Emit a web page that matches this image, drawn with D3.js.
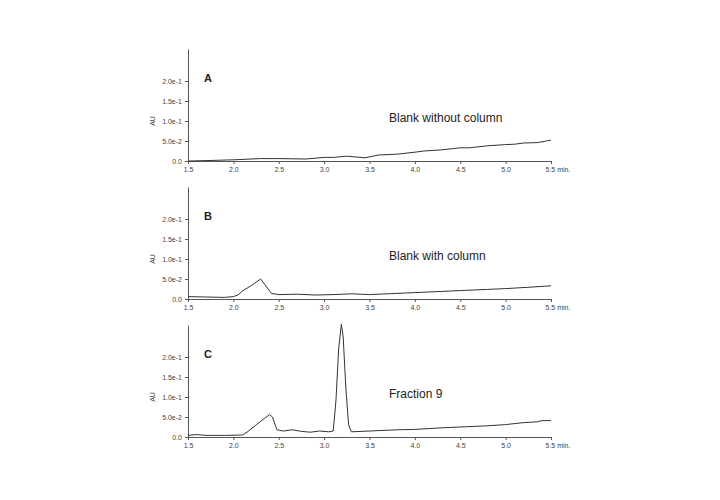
<!DOCTYPE html>
<html><head><meta charset="utf-8">
<script src="https://cdn.jsdelivr.net/npm/d3@7"></script>
<style>body{margin:0;background:#fff}text{font-family:"Liberation Sans",Arial,sans-serif}</style>
</head><body><svg id="c" width="720" height="500"></svg>
<script>
const xTicks=[1.5,2.0,2.5,3.0,3.5,4.0,4.5,5.0,5.5];
const yTicks=[0,0.05,0.1,0.15,0.2];
const yTickLabels=["0.0","5.0e-2","1.0e-1","1.5e-1","2.0e-1"];
const panelLetters=["A","B","C"];
const panelTitles=["Blank without column","Blank with column","Fraction 9"];
const timeA=[1.5,1.7,2.0,2.3,2.5,2.8,3.0,3.1,3.25,3.45,3.6,3.8,4.0,4.1,4.3,4.5,4.6,4.8,5.0,5.1,5.2,5.35,5.45,5.5];
const valA=[0,0.001,0.003,0.006,0.006,0.005,0.009,0.009,0.012,0.008,0.015,0.017,0.022,0.025,0.028,0.033,0.033,0.038,0.041,0.042,0.045,0.046,0.05,0.052];
const timeB=[1.5,1.7,1.9,2.0,2.05,2.1,2.2,2.3,2.35,2.42,2.5,2.7,2.9,3.1,3.3,3.5,3.8,4.0,4.3,4.5,4.8,5.0,5.3,5.5];
const valB=[0.006,0.005,0.004,0.006,0.01,0.02,0.034,0.05,0.035,0.014,0.011,0.012,0.01,0.011,0.013,0.011,0.014,0.016,0.019,0.021,0.024,0.026,0.03,0.033];
const timeC=[1.5,1.6,1.7,1.9,2.1,2.15,2.25,2.35,2.4,2.43,2.48,2.55,2.65,2.75,2.85,2.95,3.05,3.1,3.13,3.16,3.19,3.21,3.24,3.27,3.3,3.5,3.8,4.0,4.3,4.5,4.8,5.0,5.2,5.35,5.4,5.5];
const valC=[0.004,0.006,0.004,0.004,0.005,0.012,0.03,0.048,0.056,0.05,0.018,0.015,0.018,0.014,0.012,0.015,0.013,0.015,0.09,0.22,0.282,0.25,0.12,0.03,0.013,0.015,0.018,0.019,0.023,0.025,0.028,0.031,0.036,0.038,0.041,0.041];
const series=[[timeA,valA],[timeB,valB],[timeC,valC]];
const zeros=[161,299,437];
const svg=d3.select("#c");
const x=d3.scaleLinear().domain([1.5,5.5]).range([188,551]);
series.forEach(([t,v],i)=>{
  const y0=zeros[i];
  const y=d3.scaleLinear().domain([0,0.28]).range([y0,y0-112]);
  const g=svg.append("g");
  const ax=g.append("g").attr("transform",`translate(0,${y0})`).call(d3.axisBottom(x).tickValues(xTicks).tickFormat(d3.format(".1f")).tickSize(3).tickSizeOuter(0));
  const ay=g.append("g").attr("transform",`translate(188,0)`).call(d3.axisLeft(y).tickValues(yTicks).tickFormat((d,j)=>yTickLabels[j]).tickSize(3).tickSizeOuter(0));
  [ax,ay].forEach(a=>{a.selectAll("path,line").attr("stroke","#555");a.selectAll("text").attr("fill","#444").style("font-size","7px");});
  ax.selectAll(".tick").filter(d=>d===5.5).select("text").text("5.5 min.").attr("text-anchor","start").attr("dx","-6");
  g.append("text").attr("transform",`translate(155,${y0-40}) rotate(-90)`).attr("text-anchor","middle").style("font-size","7px").attr("fill","#444").text("AU");
  g.append("text").attr("x",204).attr("y",y0-79).style("font-size","11px").style("font-weight","bold").attr("fill","#222").text(panelLetters[i]);
  g.append("text").attr("x",389).attr("y",y0-39).style("font-size","12px").attr("fill","#222").text(panelTitles[i]);
  g.append("path").datum(t.map((d,k)=>[d,v[k]])).attr("fill","none").attr("stroke","#333").attr("stroke-width",1)
   .attr("d",d3.line().x(d=>x(d[0])).y(d=>y(d[1])));
});
</script></body></html>
